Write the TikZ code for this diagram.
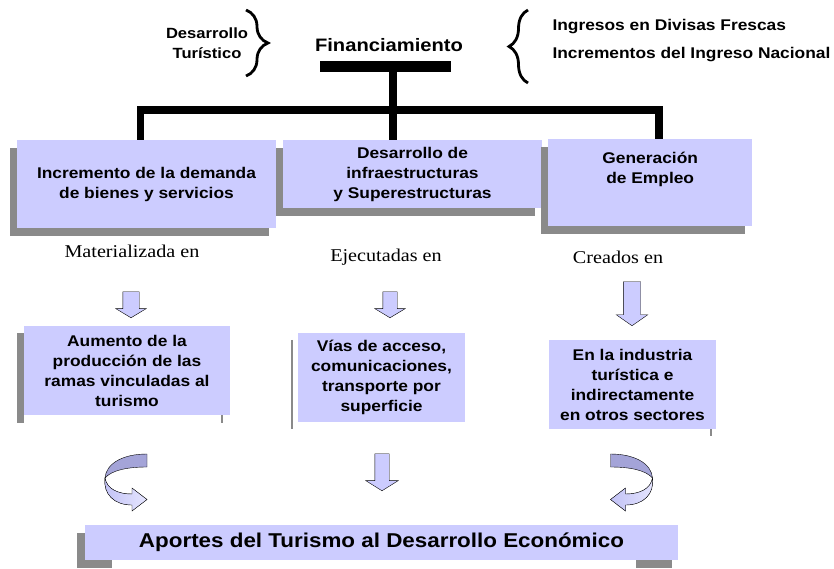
\documentclass[tikz,border=0pt]{standalone}
\usepackage{fontspec}
\setmainfont{Liberation Sans}[FakeStretch=1.12]
\newfontfamily\serifface{Liberation Serif}[FakeStretch=1.12]
\usepackage{xcolor}
\usepackage{tikz}
\usetikzlibrary{positioning, calc}
\usetikzlibrary{shapes.arrows, shadows}
\usetikzlibrary{decorations.pathreplacing, backgrounds}
\definecolor{boxlavender}{HTML}{CCCCFF}
\definecolor{shadowgray}{HTML}{8A8A8A}
\definecolor{ribbondark}{HTML}{A4A4D8}

\begin{document}
\begin{tikzpicture}[x=1pt, y=-1pt,
    box/.style={fill=boxlavender, inner sep=0pt, align=center,
        font=\fontsize{15.5}{20}\selectfont\bfseries},
    raised/.style={drop shadow={shadow xshift=-7pt, shadow yshift=-8pt, fill=shadowgray, opacity=1}},
    blockarrow/.style={single arrow, draw, thin, fill=boxlavender, rotate=-90, anchor=tip, inner xsep=0pt},
    seriflabel/.style={font=\serifface\fontsize{18}{20}\selectfont},
    branch/.style={line width=7.5pt}]
    \useasboundingbox (0,0) rectangle (834,568);

    % heading and braces
    \node[font=\fontsize{18}{20}\selectfont\bfseries] (financ) at (389,45) {Financiamiento};
    \node[fill, inner sep=0pt, minimum width=131pt, minimum height=11pt, anchor=north west] (finbar) at (320,61) {};
    \node[align=center, font=\fontsize{14.8}{20}\selectfont\bfseries] (turistico) at (207,43) {Desarrollo\\Turístico};
    \draw[line width=2.8pt, decorate, decoration={brace, amplitude=22pt}] (246,10) -- (246,76);
    \draw[line width=2.8pt, decorate, decoration={brace, amplitude=19pt}] (528,83) -- (528,10);
    \node[anchor=west, font=\fontsize{15.5}{18}\selectfont\bfseries] (divisas) at (549,27) {Ingresos en Divisas Frescas};
    \node[anchor=west, font=\fontsize{15.5}{18}\selectfont\bfseries] (nacional) at (549,55) {Incrementos del Ingreso Nacional};

    % first row
    \node[box, raised, minimum width=259pt, minimum height=88pt] (incr) at (146.5,184) {Incremento de la demanda\\de bienes y servicios};
    \node[box, raised, minimum width=259pt, minimum height=68pt] (infra) at (412.5,174) {Desarrollo de\\infraestructuras\\y Superestructuras};
    \node[box, raised, minimum width=204pt, anchor=north west, inner ysep=5pt, text height=39pt, text depth=38pt] (empleo) at (548,139) {Generación\\de Empleo};

    % tree
    \coordinate (split) at (393,110);
    \coordinate (leftend) at (140.5,110);
    \coordinate (rightend) at (659,110);
    \draw[branch] (finbar.south -| split) -- (split |- infra.north);
    \draw[branch] (leftend |- incr.north) -- (leftend) -- (rightend) -- (rightend |- empleo.north);

    % labels and arrows
    \node[seriflabel] (materializada) at (132,251) {Materializada en};
    \node[seriflabel] (ejecutadas) at (386,257) {Ejecutadas en};
    \node[seriflabel] (creados) at (618,257) {Creados en};
    \node[blockarrow, minimum height=26pt, minimum width=30pt, inner ysep=8pt, single arrow head extend=7pt, single arrow tip angle=118] (arrmat) at (131,318) {};
    \node[blockarrow, minimum height=26pt, minimum width=30pt, inner ysep=7pt, single arrow head extend=8pt, single arrow tip angle=118] (arreje) at (390,318) {};
    \node[blockarrow, minimum height=44pt, minimum width=31pt, inner ysep=8.5pt, single arrow head extend=7pt, single arrow tip angle=110] (arrcre) at (632,326) {};

    % second row
    \node[box, minimum width=206pt, minimum height=89pt] (aumento) at (127,370.5) {Aumento de la\\producción de las\\ramas vinculadas al\\turismo};
    \node[box, minimum width=167pt, minimum height=89pt] (vias) at (381.5,377.5) {Vías de acceso,\\comunicaciones,\\transporte por\\superficie};
    \node[box, minimum width=167pt, minimum height=89pt] (sectores) at (632.5,384.5) {En la industria\\turística e\\indirectamente\\en otros sectores};

    % turning arrows
    \foreach \s/\dx in {1/0, -1/757.5}{
        \begin{scope}[xshift=\dx, xscale=\s]
            \filldraw[fill=ribbondark, draw=black, thin] (147,454) .. controls (122,454) and (106,464) .. (105,478)
                .. controls (112,470) and (128,467) .. (147,467) -- cycle;
            \filldraw[left color=boxlavender!75!ribbondark, right color=boxlavender!50!white, draw=black, thin]
                (105,478) .. controls (107,489) and (118,494) .. (132,494) -- (132,488) -- (147,499.5)
                -- (132,511) -- (132,505) .. controls (114,505) and (103,494) .. (105,478) -- cycle;
        \end{scope}
    }
    \node[blockarrow, minimum height=37pt, minimum width=32pt, inner ysep=7pt, single arrow head extend=9pt, single arrow tip angle=116] (arrvia) at (382,491) {};

    % bottom
    \node[box, minimum width=593pt, minimum height=35pt, font=\fontsize{20}{22}\selectfont\bfseries] (aportes) at (381.5,542.5) {Aportes del Turismo al Desarrollo Económico};

    \begin{scope}[on background layer]
        \fill[shadowgray] ($(aumento.north west)+(-7,7)$) rectangle ($(aumento.south west)+(0,8)$);
        \draw[shadowgray, line width=1.5pt] ($(aumento.south east)+(-8,0)$) -- +(0,8);
        \draw[shadowgray, line width=2pt] ($(vias.north west)+(-6,7)$) -- ($(vias.south west)+(-6,7)$);
        \draw[shadowgray, line width=1.5pt] ($(sectores.south east)+(-5,0)$) -- +(0,7);
        \fill[shadowgray] ($(aportes.north west)+(-8,8)$) rectangle ($(aportes.south west)+(0,8)$);
        \fill[shadowgray] ($(aportes.south west)+(-8,0)$) rectangle ($(aportes.south west)+(27,8)$);
        \fill[shadowgray] ($(aportes.south east)+(-42,0)$) rectangle ($(aportes.south east)+(-6,8)$);
    \end{scope}
\end{tikzpicture}
\end{document}
